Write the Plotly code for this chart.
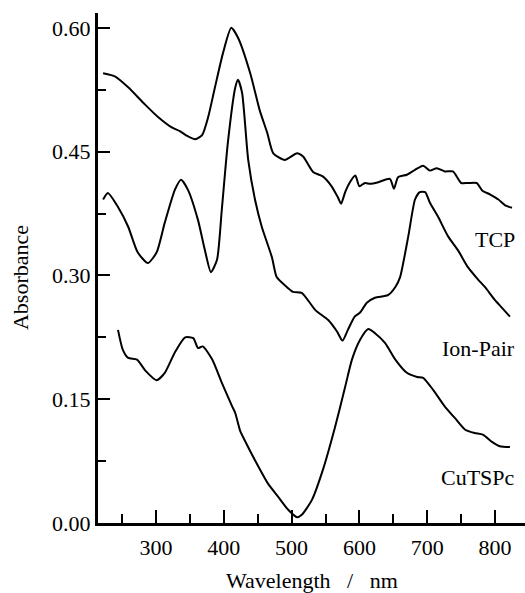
import plotly.graph_objects as go

# ---- data ----
tcp_nm = [222, 240, 259, 284, 303, 324, 335, 346, 358, 368, 377, 387, 399, 411, 421, 439, 453, 464, 473, 490,
          508, 517, 532, 546, 559, 568, 573, 579, 586, 594, 600, 608, 616, 628, 645, 651, 657, 670, 682, 694,
          704, 714, 726, 738, 750, 760, 773, 781, 793, 805, 815, 825]
tcp_abs = [0.545, 0.541, 0.528, 0.507, 0.492, 0.479, 0.475, 0.469, 0.465, 0.470, 0.492, 0.528, 0.570, 0.600, 0.588,
           0.545, 0.500, 0.473, 0.448, 0.440, 0.448, 0.444, 0.425, 0.420, 0.408, 0.395, 0.387, 0.401, 0.413, 0.421,
           0.408, 0.412, 0.411, 0.413, 0.417, 0.405, 0.419, 0.422, 0.428, 0.433, 0.427, 0.430, 0.426, 0.426, 0.412,
           0.412, 0.412, 0.403, 0.398, 0.392, 0.385, 0.382]

ion_nm = [222, 229, 244, 259, 273, 288, 301, 313, 328, 337, 347, 362, 372, 381, 390, 397, 406, 417, 421, 427,
          436, 446, 456, 471, 478, 490, 502, 515, 535, 554, 567, 575, 583, 593, 601, 611, 623, 642, 653, 660,
          672, 682, 689, 697, 704, 716, 731, 745, 760, 775, 785, 800, 810, 822]
ion_abs = [0.392, 0.400, 0.383, 0.359, 0.328, 0.315, 0.328, 0.364, 0.404, 0.416, 0.404, 0.367, 0.331, 0.304, 0.319,
           0.379, 0.461, 0.528, 0.537, 0.521, 0.440, 0.392, 0.359, 0.322, 0.298, 0.288, 0.280, 0.279, 0.258, 0.246,
           0.232, 0.221, 0.234, 0.250, 0.255, 0.267, 0.273, 0.276, 0.286, 0.298, 0.347, 0.392, 0.401, 0.401, 0.388,
           0.371, 0.347, 0.331, 0.310, 0.295, 0.286, 0.270, 0.261, 0.250]

cu_nm = [244, 251, 259, 272, 284, 301, 313, 328, 343, 355, 362, 369, 383, 397, 412, 417, 424, 431, 446, 465,
         480, 495, 508, 515, 530, 546, 564, 579, 589, 601, 613, 623, 638, 653, 670, 685, 694, 709, 726, 741,
         756, 770, 782, 796, 807, 822]
cu_abs = [0.234, 0.210, 0.200, 0.198, 0.185, 0.173, 0.182, 0.207, 0.225, 0.224, 0.212, 0.214, 0.198, 0.170, 0.142,
          0.133, 0.112, 0.100, 0.076, 0.048, 0.032, 0.016, 0.007, 0.010, 0.028, 0.064, 0.116, 0.165, 0.198, 0.222,
          0.235, 0.230, 0.218, 0.198, 0.182, 0.177, 0.176, 0.161, 0.141, 0.127, 0.113, 0.109, 0.107, 0.098, 0.093,
          0.092]

series_names = ["TCP", "Ion-Pair", "CuTSPc"]
label_nm = [832, 832, 832]
label_abs = [0.343, 0.212, 0.055]

y_ticks = [0.00, 0.15, 0.30, 0.45, 0.60]
x_ticks = [300, 400, 500, 600, 700, 800]

FONT = "Liberation Serif"
FS = 22

fig = go.Figure()
for xs, ys in [(tcp_nm, tcp_abs), (ion_nm, ion_abs), (cu_nm, cu_abs)]:
    fig.add_trace(go.Scatter(x=xs, y=ys, mode="lines",
                             line=dict(color="black", width=2, shape="spline", smoothing=0.6),
                             showlegend=False, hoverinfo="skip"))

for name, lx, ly in zip(series_names, label_nm, label_abs):
    fig.add_annotation(x=lx, y=ly, text=name, showarrow=False, xanchor="right", yanchor="middle",
                       font=dict(family=FONT, size=FS, color="black"))

fig.add_annotation(xref="paper", yref="paper", x=0.501, y=-0.112, text="Wavelength  &nbsp;/&nbsp;  nm",
                   showarrow=False, xanchor="center", yanchor="middle",
                   font=dict(family=FONT, size=FS, color="black"))
fig.add_annotation(xref="paper", yref="paper", x=-0.183, y=0.482, text="Absorbance", textangle=-90,
                   showarrow=False, xanchor="center", yanchor="middle",
                   font=dict(family=FONT, size=FS, color="black"))

fig.update_layout(
    width=525, height=593,
    margin=dict(l=98, r=0, t=13, b=70),
    paper_bgcolor="white", plot_bgcolor="white",
    font=dict(family=FONT, size=FS, color="black"),
    xaxis=dict(range=[214.5, 844.2], tickvals=x_ticks, ticks="inside", ticklen=13, tickwidth=2,
               tickcolor="black", showline=True, linecolor="black", linewidth=3, showgrid=False,
               zeroline=False, ticklabelstandoff=3,
               tickfont=dict(family=FONT, size=FS, color="black"),
               minor=dict(dtick=50, tick0=250, ticks="inside", ticklen=9, tickwidth=2, tickcolor="black",
                          showgrid=False)),
    yaxis=dict(range=[0, 0.618], tickvals=y_ticks, tickformat=".2f", ticks="inside", ticklen=12,
               tickwidth=2, tickcolor="black", showline=True, linecolor="black", linewidth=3,
               showgrid=False, zeroline=False, ticklabelstandoff=0,
               tickfont=dict(family=FONT, size=FS, color="black"),
               minor=dict(dtick=0.075, tick0=0, ticks="inside", ticklen=8, tickwidth=2, tickcolor="black",
                          showgrid=False)),
)

fig.write_html("out.html", config={"displayModeBar": False, "staticPlot": True},
               post_script="document.body.style.margin='0';document.body.style.overflow='hidden';")
